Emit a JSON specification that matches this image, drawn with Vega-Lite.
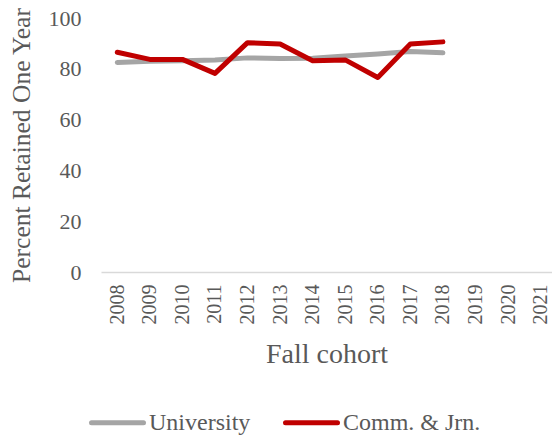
{
  "$schema": "https://vega.github.io/schema/vega-lite/v6.json",
  "width": 451,
  "height": 254,
  "autosize": {"type": "none"},
  "padding": {"left": 101, "top": 18, "right": 0, "bottom": 165},
  "background": "white",
  "config": {
    "font": "Liberation Serif",
    "view": {"stroke": null},
    "axis": {"labelColor": "#595959", "titleColor": "#595959", "labelFont": "Liberation Serif", "titleFont": "Liberation Serif", "titleFontWeight": "normal"},
    "legend": {"labelColor": "#595959", "labelFont": "Liberation Serif"}
  },
  "data": {
    "values": [
      {"year": 2008, "series": "University", "value": 82.5},
      {"year": 2009, "series": "University", "value": 83.0},
      {"year": 2010, "series": "University", "value": 83.2},
      {"year": 2011, "series": "University", "value": 83.5},
      {"year": 2012, "series": "University", "value": 84.3},
      {"year": 2013, "series": "University", "value": 84.1},
      {"year": 2014, "series": "University", "value": 84.2},
      {"year": 2015, "series": "University", "value": 85.0},
      {"year": 2016, "series": "University", "value": 85.8},
      {"year": 2017, "series": "University", "value": 86.8},
      {"year": 2018, "series": "University", "value": 86.3},
      {"year": 2008, "series": "Comm. & Jrn.", "value": 86.5},
      {"year": 2009, "series": "Comm. & Jrn.", "value": 83.7},
      {"year": 2010, "series": "Comm. & Jrn.", "value": 83.7},
      {"year": 2011, "series": "Comm. & Jrn.", "value": 78.2},
      {"year": 2012, "series": "Comm. & Jrn.", "value": 90.3},
      {"year": 2013, "series": "Comm. & Jrn.", "value": 89.8},
      {"year": 2014, "series": "Comm. & Jrn.", "value": 83.2},
      {"year": 2015, "series": "Comm. & Jrn.", "value": 83.5},
      {"year": 2016, "series": "Comm. & Jrn.", "value": 76.6},
      {"year": 2017, "series": "Comm. & Jrn.", "value": 89.8},
      {"year": 2018, "series": "Comm. & Jrn.", "value": 90.6}
    ]
  },
  "mark": {"type": "line", "strokeWidth": 5, "strokeCap": "round", "strokeJoin": "round"},
  "encoding": {
    "x": {
      "field": "year", "type": "quantitative",
      "scale": {"domain": [2007.5, 2021.35], "nice": false, "zero": false},
      "axis": {"title": "Fall cohort", "titleFontSize": 28, "titlePadding": 16, "values": [2008,2009,2010,2011,2012,2013,2014,2015,2016,2017,2018,2019,2020,2021], "format": "d", "labelAngle": -90, "labelAlign": "right", "labelBaseline": "middle", "labelFontSize": 20, "labelPadding": 12, "ticks": false, "grid": false, "domainColor": "#d9d9d9", "domainWidth": 1.5, "labelFlush": false, "labelOverlap": false}
    },
    "y": {
      "field": "value", "type": "quantitative",
      "scale": {"domain": [0, 100]},
      "axis": {"title": "Percent Retained One Year", "titleFontSize": 25.5, "titlePadding": 14, "values": [0,20,40,60,80,100], "labelFontSize": 22, "labelPadding": 20, "grid": false, "domain": false, "ticks": false}
    },
    "color": {
      "field": "series", "type": "nominal",
      "scale": {"domain": ["University", "Comm. & Jrn."], "range": ["#A5A5A5", "#C00000"]},
      "legend": {"title": null, "orient": "none", "legendX": -12, "legendY": 376, "direction": "horizontal", "symbolType": "stroke", "symbolStrokeWidth": 5, "symbolSize": 2704, "labelFontSize": 24, "labelOffset": 3, "columnPadding": 24,
        "encode": {"symbols": {"update": {"strokeCap": {"value": "round"}}}}}
    }
  }
}
